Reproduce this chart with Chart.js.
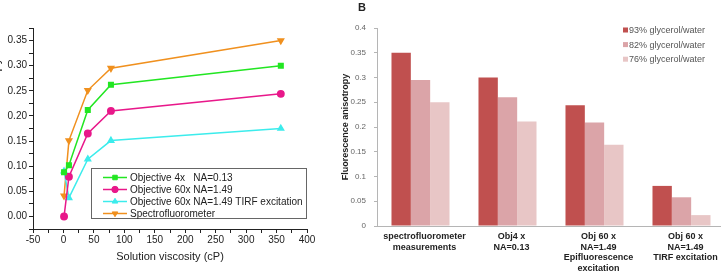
<!DOCTYPE html>
<html><head><meta charset="utf-8">
<script src="https://cdn.jsdelivr.net/npm/chart.js@4.4.1/dist/chart.umd.min.js"></script>
<style>
html,body{margin:0;padding:0;width:721px;height:275px;overflow:hidden;background:#fff;position:relative}
#ca{position:absolute;left:-17px;top:0}
#cb{position:absolute;left:334px;top:0}
#lblB{position:absolute;left:358px;top:2px;font:bold 11px "Liberation Sans",Arial,sans-serif;line-height:11px;color:#222}
</style></head><body>
<canvas id="ca" width="334" height="275"></canvas>
<canvas id="cb" width="400" height="275"></canvas>
<div id="lblB">B</div>
<script>
// ---------- Panel A data ----------
const viscosity = [1, 9, 40, 78, 357];
const obj4x = [0.088, 0.102, 0.212, 0.262, 0.300];
const obj60x = [0.000, 0.079, 0.165, 0.210, 0.244];
const obj60xTirf = [0.090, 0.037, 0.114, 0.151, 0.175];
const spectro = [0.041, 0.151, 0.251, 0.295, 0.350];
const lineLabels = ['Objective 4x   NA=0.13', 'Objective 60x NA=1.49', 'Objective 60x NA=1.49 TIRF excitation', 'Spectrofluorometer'];
const xTitle = 'Solution viscosity (cP)';
const yTitleA = 'Fluorescence anisotropy';

// ---------- Panel B data ----------
const barCategories = [
  ['spectrofluorometer', 'measurements'],
  ['Obj4 x', 'NA=0.13'],
  ['Obj 60 x', 'NA=1.49', 'Epifluorescence', 'excitation'],
  ['Obj 60 x', 'NA=1.49', 'TIRF excitation']
];
const barLabels = ['93% glycerol/water', '82% glycerol/water', '76% glycerol/water'];
const g93 = [0.350, 0.300, 0.244, 0.081];
const g82 = [0.295, 0.260, 0.209, 0.058];
const g76 = [0.250, 0.211, 0.164, 0.022];
const yTitleB = 'Fluorescence anisotropy';

const FF = '"Liberation Sans", Arial, sans-serif';
const pts = (ys) => viscosity.map((x, i) => ({x: x, y: ys[i]}));

const lineLegend = {
  id: 'lineLegend',
  afterDraw(chart) {
    const {ctx, chartArea: a} = chart;
    const W = 216, H = 51, L = a.right - W, T = a.bottom - 61;
    ctx.save();
    ctx.fillStyle = '#fff'; ctx.fillRect(L, T, W, H);
    ctx.strokeStyle = '#666'; ctx.lineWidth = 1; ctx.strokeRect(L + 0.5, T + 0.5, W - 1, H - 1);
    ctx.font = '10px ' + FF;
    ctx.textBaseline = 'middle';
    chart.data.datasets.forEach((ds, i) => {
      const y = T + 9.5 + i * 12;
      ctx.strokeStyle = ds.borderColor; ctx.lineWidth = ds.borderWidth;
      ctx.beginPath(); ctx.moveTo(L + 12, y); ctx.lineTo(L + 36, y); ctx.stroke();
      ctx.fillStyle = ds.pointBackgroundColor; ctx.strokeStyle = ds.borderColor; ctx.lineWidth = 1;
      Chart.helpers.drawPoint(ctx, {pointStyle: ds.pointStyle, radius: ds.pointRadius, rotation: ds.pointRotation || 0, borderWidth: 1}, L + 24, y);
      ctx.fillStyle = '#222';
      ctx.fillText(ds.label, L + 39, y + 0.5);
    });
    ctx.restore();
  }
};

const mk = (label, ys, color, style, rot) => ({
  label: label, data: pts(ys), borderColor: color, backgroundColor: color,
  pointBackgroundColor: color, borderWidth: 1.5, pointRadius: 3.2, pointStyle: style,
  pointRotation: rot || 0, showLine: true, tension: 0
});

new Chart(document.getElementById('ca'), {
  type: 'scatter',
  data: {
    datasets: [
      mk(lineLabels[0], obj4x, '#22e622', 'rect'),
      mk(lineLabels[1], obj60x, '#e8188a', 'circle'),
      mk(lineLabels[2], obj60xTirf, '#3cecec', 'triangle'),
      mk(lineLabels[3], spectro, '#f0901e', 'triangle', 180)
    ]
  },
  options: {
    responsive: false, animation: false,
    layout: {padding: {top: 28, right: 10, left: 0, bottom: 0}},
    plugins: {legend: {display: false}, tooltip: {enabled: false}},
    scales: {
      x: {
        type: 'linear', min: -50, max: 400,
        ticks: {stepSize: 25, autoSkip: false, maxRotation: 0, padding: 1, color: '#222', font: {family: FF, size: 10},
          callback: (v) => (Math.round(v) % 50 === 0 ? String(Math.round(v)) : '')},
        grid: {drawOnChartArea: false, drawTicks: true, tickLength: 4, color: '#222'},
        border: {display: true, color: '#222', width: 1},
        title: {display: true, text: xTitle, color: '#222', font: {family: FF, size: 11}, padding: {top: 0, bottom: 11}},
        afterFit(s) { s.height = 46; }
      },
      y: {
        type: 'linear', min: -0.025, max: 0.375,
        ticks: {stepSize: 0.025, autoSkip: false, padding: 2, color: '#222', font: {family: FF, size: 10},
          callback: (v) => { const m = Math.round(v * 1000); return (m % 50 === 0 && m >= 0 && m <= 350) ? (m / 1000).toFixed(2) : ''; }},
        grid: {drawOnChartArea: false, drawTicks: true, tickLength: 4, color: '#222'},
        border: {display: true, color: '#222', width: 1},
        title: {display: true, text: yTitleA, color: '#222', font: {family: FF, size: 13}, padding: {top: 5, bottom: 0}},
        afterFit(s) { s.width = 50; }
      }
    }
  },
  plugins: [lineLegend]
});

const barLegend = {
  id: 'barLegend',
  afterDraw(chart) {
    const {ctx, chartArea: a} = chart;
    ctx.save();
    ctx.font = '9px ' + FF;
    ctx.textBaseline = 'middle';
    chart.data.datasets.forEach((ds, i) => {
      const y = a.top + 2 + i * 14.6;
      const x = a.left + 246;
      ctx.fillStyle = ds.backgroundColor;
      ctx.fillRect(x, y - 2.5, 5, 5);
      ctx.fillStyle = '#555';
      ctx.fillText(ds.label, x + 6, y + 0.5);
    });
    ctx.restore();
  }
};

new Chart(document.getElementById('cb'), {
  type: 'bar',
  data: {
    labels: barCategories,
    datasets: [
      {label: barLabels[0], data: g93, backgroundColor: '#c0504f'},
      {label: barLabels[1], data: g82, backgroundColor: '#dba4a8'},
      {label: barLabels[2], data: g76, backgroundColor: '#e8c6c6'}
    ]
  },
  options: {
    responsive: false, animation: false,
    datasets: {bar: {categoryPercentage: 0.667, barPercentage: 1.0, borderWidth: 0}},
    layout: {padding: {top: 28, right: 9, left: 0, bottom: 0}},
    plugins: {legend: {display: false}, tooltip: {enabled: false}},
    scales: {
      x: {
        ticks: {autoSkip: false, maxRotation: 0, padding: 5, labelOffset: 4, color: '#222', font: {family: FF, size: 9, weight: 'bold'}},
        grid: {drawOnChartArea: false, drawTicks: false, color: '#b5b5b5'},
        border: {display: true, color: '#b5b5b5', width: 1},
        afterFit(s) { s.height = 49; }
      },
      y: {
        min: 0, max: 0.4,
        ticks: {stepSize: 0.05, padding: 8, color: '#666', font: {family: FF, size: 8},
          callback: (v) => String(Math.round(v * 100) / 100)},
        grid: {drawOnChartArea: false, drawTicks: true, tickLength: 3, color: '#b5b5b5'},
        border: {display: true, color: '#b5b5b5', width: 1},
        title: {display: true, text: yTitleB, color: '#222', font: {family: FF, size: 9, weight: 'bold'}, padding: {top: 6, bottom: 0}},
        afterFit(s) { s.width = 43; }
      }
    }
  },
  plugins: [barLegend]
});
</script>
</body></html>
